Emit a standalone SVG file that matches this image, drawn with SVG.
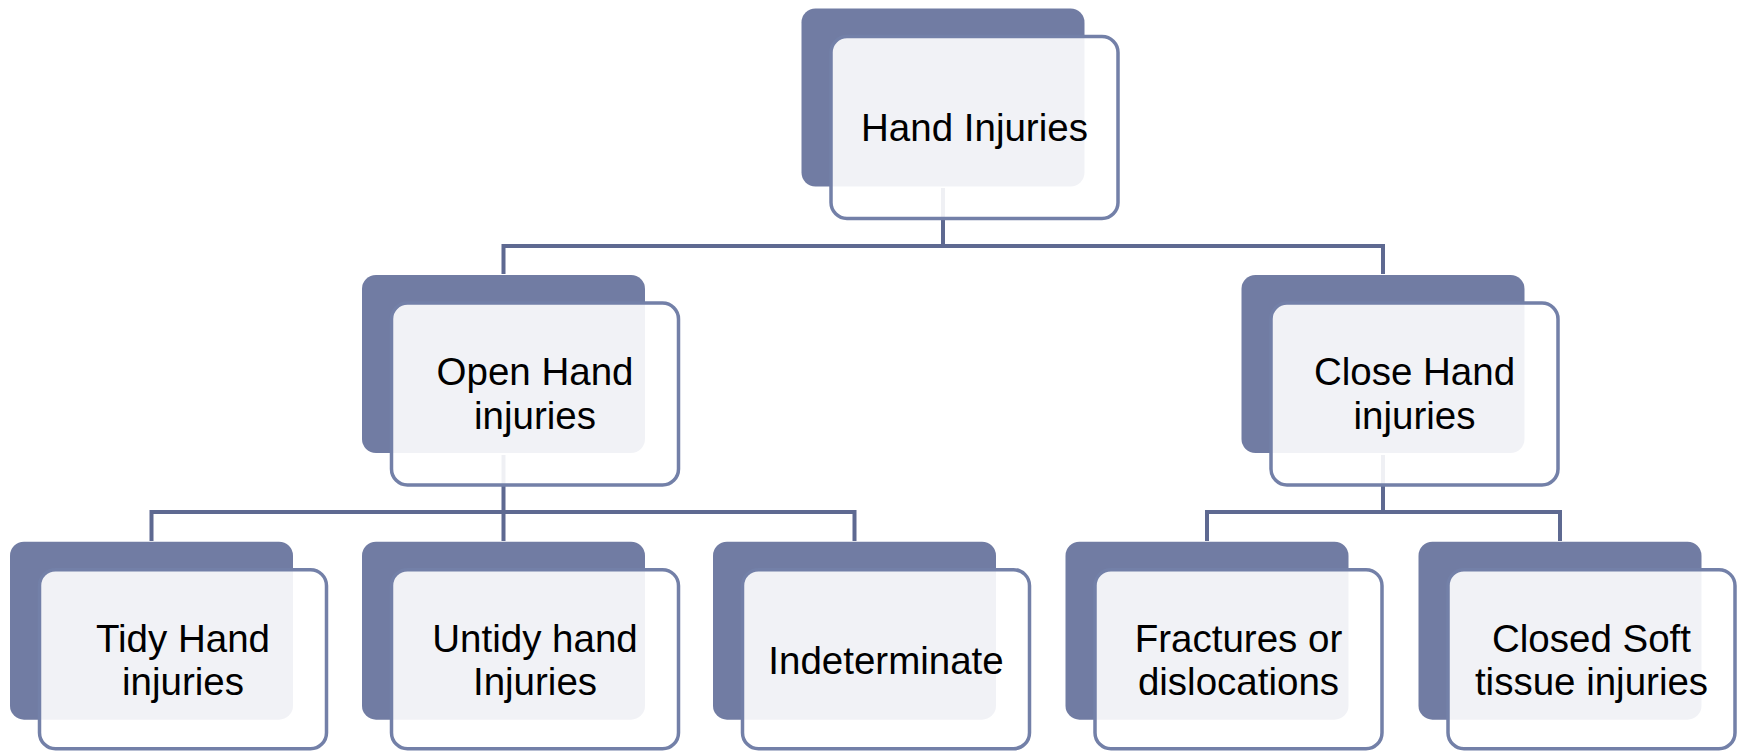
<svg xmlns="http://www.w3.org/2000/svg" width="1739" height="751" viewBox="0 0 1739 751">
<style>
.back{fill:#717ca3}
.front{fill:#ffffff;fill-opacity:0.9;stroke:#7380a8;stroke-width:3.5}
.lbl{font-family:"Liberation Sans",Arial,sans-serif;font-size:38.5px;fill:#000;text-anchor:middle}
.conn{fill:none;stroke:#5e6991;stroke-width:4}
</style>
<rect width="1739" height="751" fill="#ffffff"/>
<g id="connectors">
<path class="conn" d="M943,188 V246 M503.5,246 H1383 M503.5,244 V274 M1383,244 V274"/>
<path class="conn" d="M503.5,455 V512 M151.5,512 H854.5 M151.5,510 V541 M503.5,510 V541 M854.5,510 V541"/>
<path class="conn" d="M1383,455 V512 M1207,512 H1560 M1207,510 V541 M1560,510 V541"/>
</g>
<g id="node-hand-injuries">
<rect class="back" x="801.5" y="8.5" width="283" height="178" rx="14"/>
<rect class="front" x="831" y="36.5" width="287" height="182" rx="16"/>
<text class="lbl" x="974.5" y="140.5">Hand Injuries</text>
</g>
<g id="node-open">
<rect class="back" x="362" y="275" width="283" height="178" rx="14"/>
<rect class="front" x="391.5" y="303" width="287" height="182" rx="16"/>
<text class="lbl" x="535" y="385">Open Hand</text>
<text class="lbl" x="535" y="428.5">injuries</text>
</g>
<g id="node-close">
<rect class="back" x="1241.5" y="275" width="283" height="178" rx="14"/>
<rect class="front" x="1271" y="303" width="287" height="182" rx="16"/>
<text class="lbl" x="1414.5" y="385">Close Hand</text>
<text class="lbl" x="1414.5" y="428.5">injuries</text>
</g>
<g id="node-tidy">
<rect class="back" x="10" y="541.7" width="283" height="178" rx="14"/>
<rect class="front" x="39.5" y="569.7" width="287" height="179" rx="16"/>
<text class="lbl" x="183" y="651.7">Tidy Hand</text>
<text class="lbl" x="183" y="695.2">injuries</text>
</g>
<g id="node-untidy">
<rect class="back" x="362" y="541.7" width="283" height="178" rx="14"/>
<rect class="front" x="391.5" y="569.7" width="287" height="179" rx="16"/>
<text class="lbl" x="535" y="651.7">Untidy hand</text>
<text class="lbl" x="535" y="695.2">Injuries</text>
</g>
<g id="node-indeterminate">
<rect class="back" x="713" y="541.7" width="283" height="178" rx="14"/>
<rect class="front" x="742.5" y="569.7" width="287" height="179" rx="16"/>
<text class="lbl" x="886" y="673.7">Indeterminate</text>
</g>
<g id="node-fractures">
<rect class="back" x="1065.5" y="541.7" width="283" height="178" rx="14"/>
<rect class="front" x="1095" y="569.7" width="287" height="179" rx="16"/>
<text class="lbl" x="1238.5" y="651.7">Fractures or</text>
<text class="lbl" x="1238.5" y="695.2">dislocations</text>
</g>
<g id="node-closed-soft">
<rect class="back" x="1418.5" y="541.7" width="283" height="178" rx="14"/>
<rect class="front" x="1448" y="569.7" width="287" height="179" rx="16"/>
<text class="lbl" x="1591.5" y="651.7">Closed Soft</text>
<text class="lbl" x="1591.5" y="695.2">tissue injuries</text>
</g>
</svg>
